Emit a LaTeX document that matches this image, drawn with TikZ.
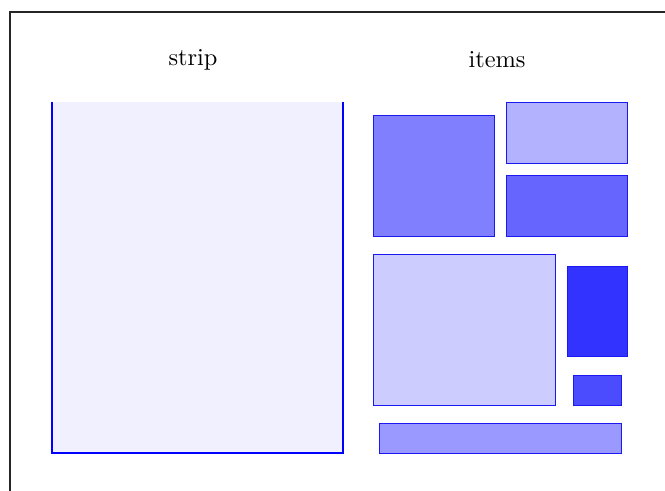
\documentclass[tikz,border=0pt]{standalone}
\usetikzlibrary{fit}
\definecolor{Edge}{HTML}{1A1AF0}
\tikzset{frame/.style={draw=black!85,line width=0.6pt},
  stripbox/.style={fill=blue!6},
  stripedge/.style={draw=blue,line width=0.8pt},
  item/.style={draw=Edge,line width=0.35pt,inner sep=0pt},
  caption/.style={font=\normalsize,text=black}}

\begin{document}
\begin{tikzpicture}[x=0.41pt,y=-0.41pt]
  \useasboundingbox (0,0) rectangle (665,490);
  \draw[frame] (10,12) rectangle (700,520);
  % the strip, open at the top
  \coordinate (stripTL) at (52,102);
  \coordinate (stripBR) at (343,453);
  \fill[stripbox] (stripTL) rectangle (stripBR);
  \draw[stripedge] (stripTL) |- (stripBR) -- (stripBR |- stripTL);
  \node[caption] (striplabel) at (193,60) {strip};
  \node[caption] (itemslabel) at (497,60) {items};
  % the items
  \node[item,fill=blue!50,fit={(373,115) (494,236)}] (itemA) {};
  \node[item,fill=blue!30,fit={(506,102) (627,163)}] (itemB) {};
  \node[item,fill=blue!60,fit={(506,175) (627,236)}] (itemC) {};
  \node[item,fill=blue!20,fit={(373,254) (555,405)}] (itemD) {};
  \node[item,fill=blue!80,fit={(567,266) (627,356)}] (itemE) {};
  \node[item,fill=blue!70,fit={(573,375) (621,405)}] (itemF) {};
  \node[item,fill=blue!40,fit={(379,423) (621,453)}] (itemG) {};
\end{tikzpicture}
\end{document}
